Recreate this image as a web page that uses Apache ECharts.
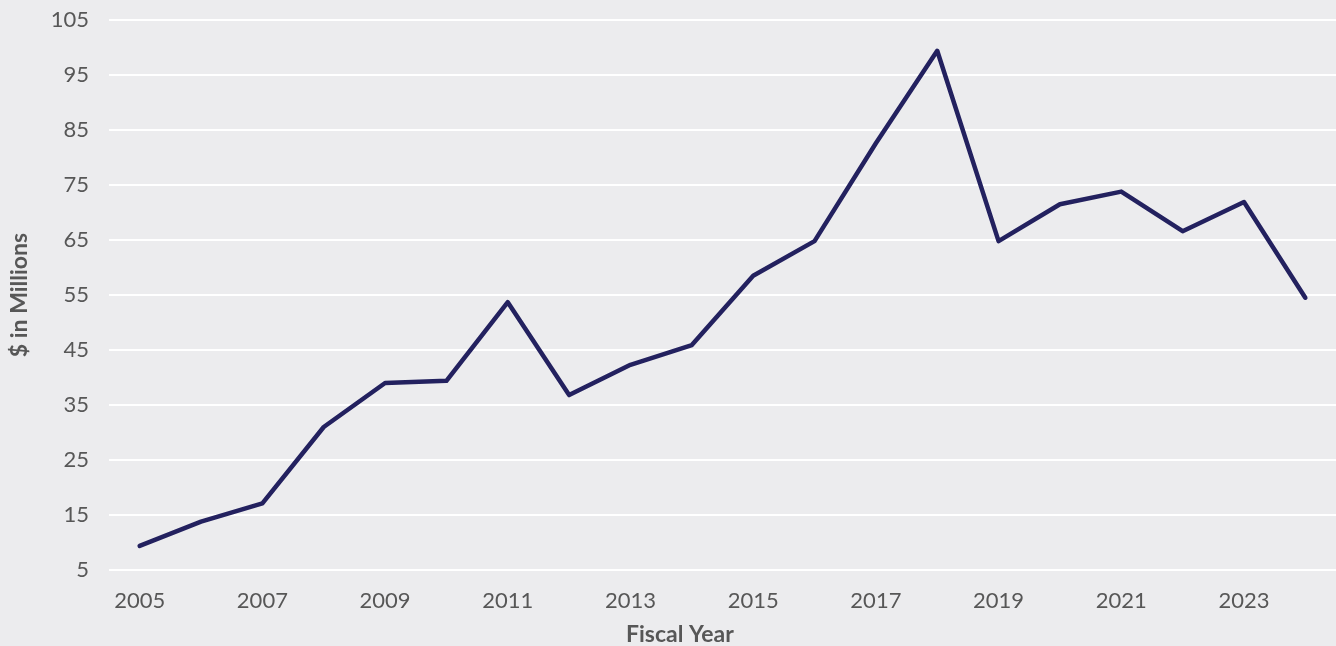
<!DOCTYPE html>
<html>
<head>
<meta charset="utf-8">
<script src="https://cdn.jsdelivr.net/npm/echarts@6/dist/echarts.min.js"></script>
<style>
html,body{margin:0;padding:0;background:#ECECEE;}
#c{width:1336px;height:646px;}
</style>
</head>
<body>
<div id="c"></div>
<script>
var years = ['2005','2006','2007','2008','2009','2010','2011','2012','2013','2014','2015','2016','2017','2018','2019','2020','2021','2022','2023','2024'];
var values = [9.4, 13.8, 17.1, 31.0, 39.0, 39.4, 53.7, 36.8, 42.3, 45.9, 58.5, 64.8, 82.6, 99.4, 64.8, 71.5, 73.8, 66.6, 71.9, 54.5];
var yTicks = [5, 15, 25, 35, 45, 55, 65, 75, 85, 95, 105];

var chart = echarts.init(document.getElementById('c'));
chart.setOption({
  backgroundColor: '#ECECEE',
  animation: false,
  grid: {left: 104, right: 0, top: 20, bottom: 76, containLabel: false},
  xAxis: {
    type: 'category',
    data: years,
    boundaryGap: true,
    axisLine: {show: false},
    axisTick: {show: false},
    splitLine: {show: false},
    axisLabel: {interval: 1, color: '#575757', fontSize: 22, fontFamily: 'Lato', margin: 20}
  },
  yAxis: {
    type: 'value',
    min: yTicks[0],
    max: yTicks[yTicks.length - 1],
    interval: 10,
    name: '$ in Millions',
    nameLocation: 'middle',
    nameGap: 78,
    nameTextStyle: {color: '#575757', fontSize: 23, fontWeight: 'bold', fontFamily: 'Lato'},
    axisLine: {show: false},
    axisTick: {show: false},
    splitLine: {lineStyle: {color: '#FFFFFF', width: 2}},
    axisLabel: {color: '#575757', fontSize: 22, fontFamily: 'Lato', margin: 20}
  },
  graphic: [{
    type: 'text',
    left: 626,
    top: 623,
    style: {text: 'Fiscal Year', fill: '#575757', font: 'bold 23px Lato'}
  }],
  series: [{
    type: 'line',
    data: values,
    symbol: 'none',
    lineStyle: {color: '#23215F', width: 4.5, cap: 'round', join: 'round'},
    itemStyle: {color: '#23215F'}
  }]
});
</script>
</body>
</html>
